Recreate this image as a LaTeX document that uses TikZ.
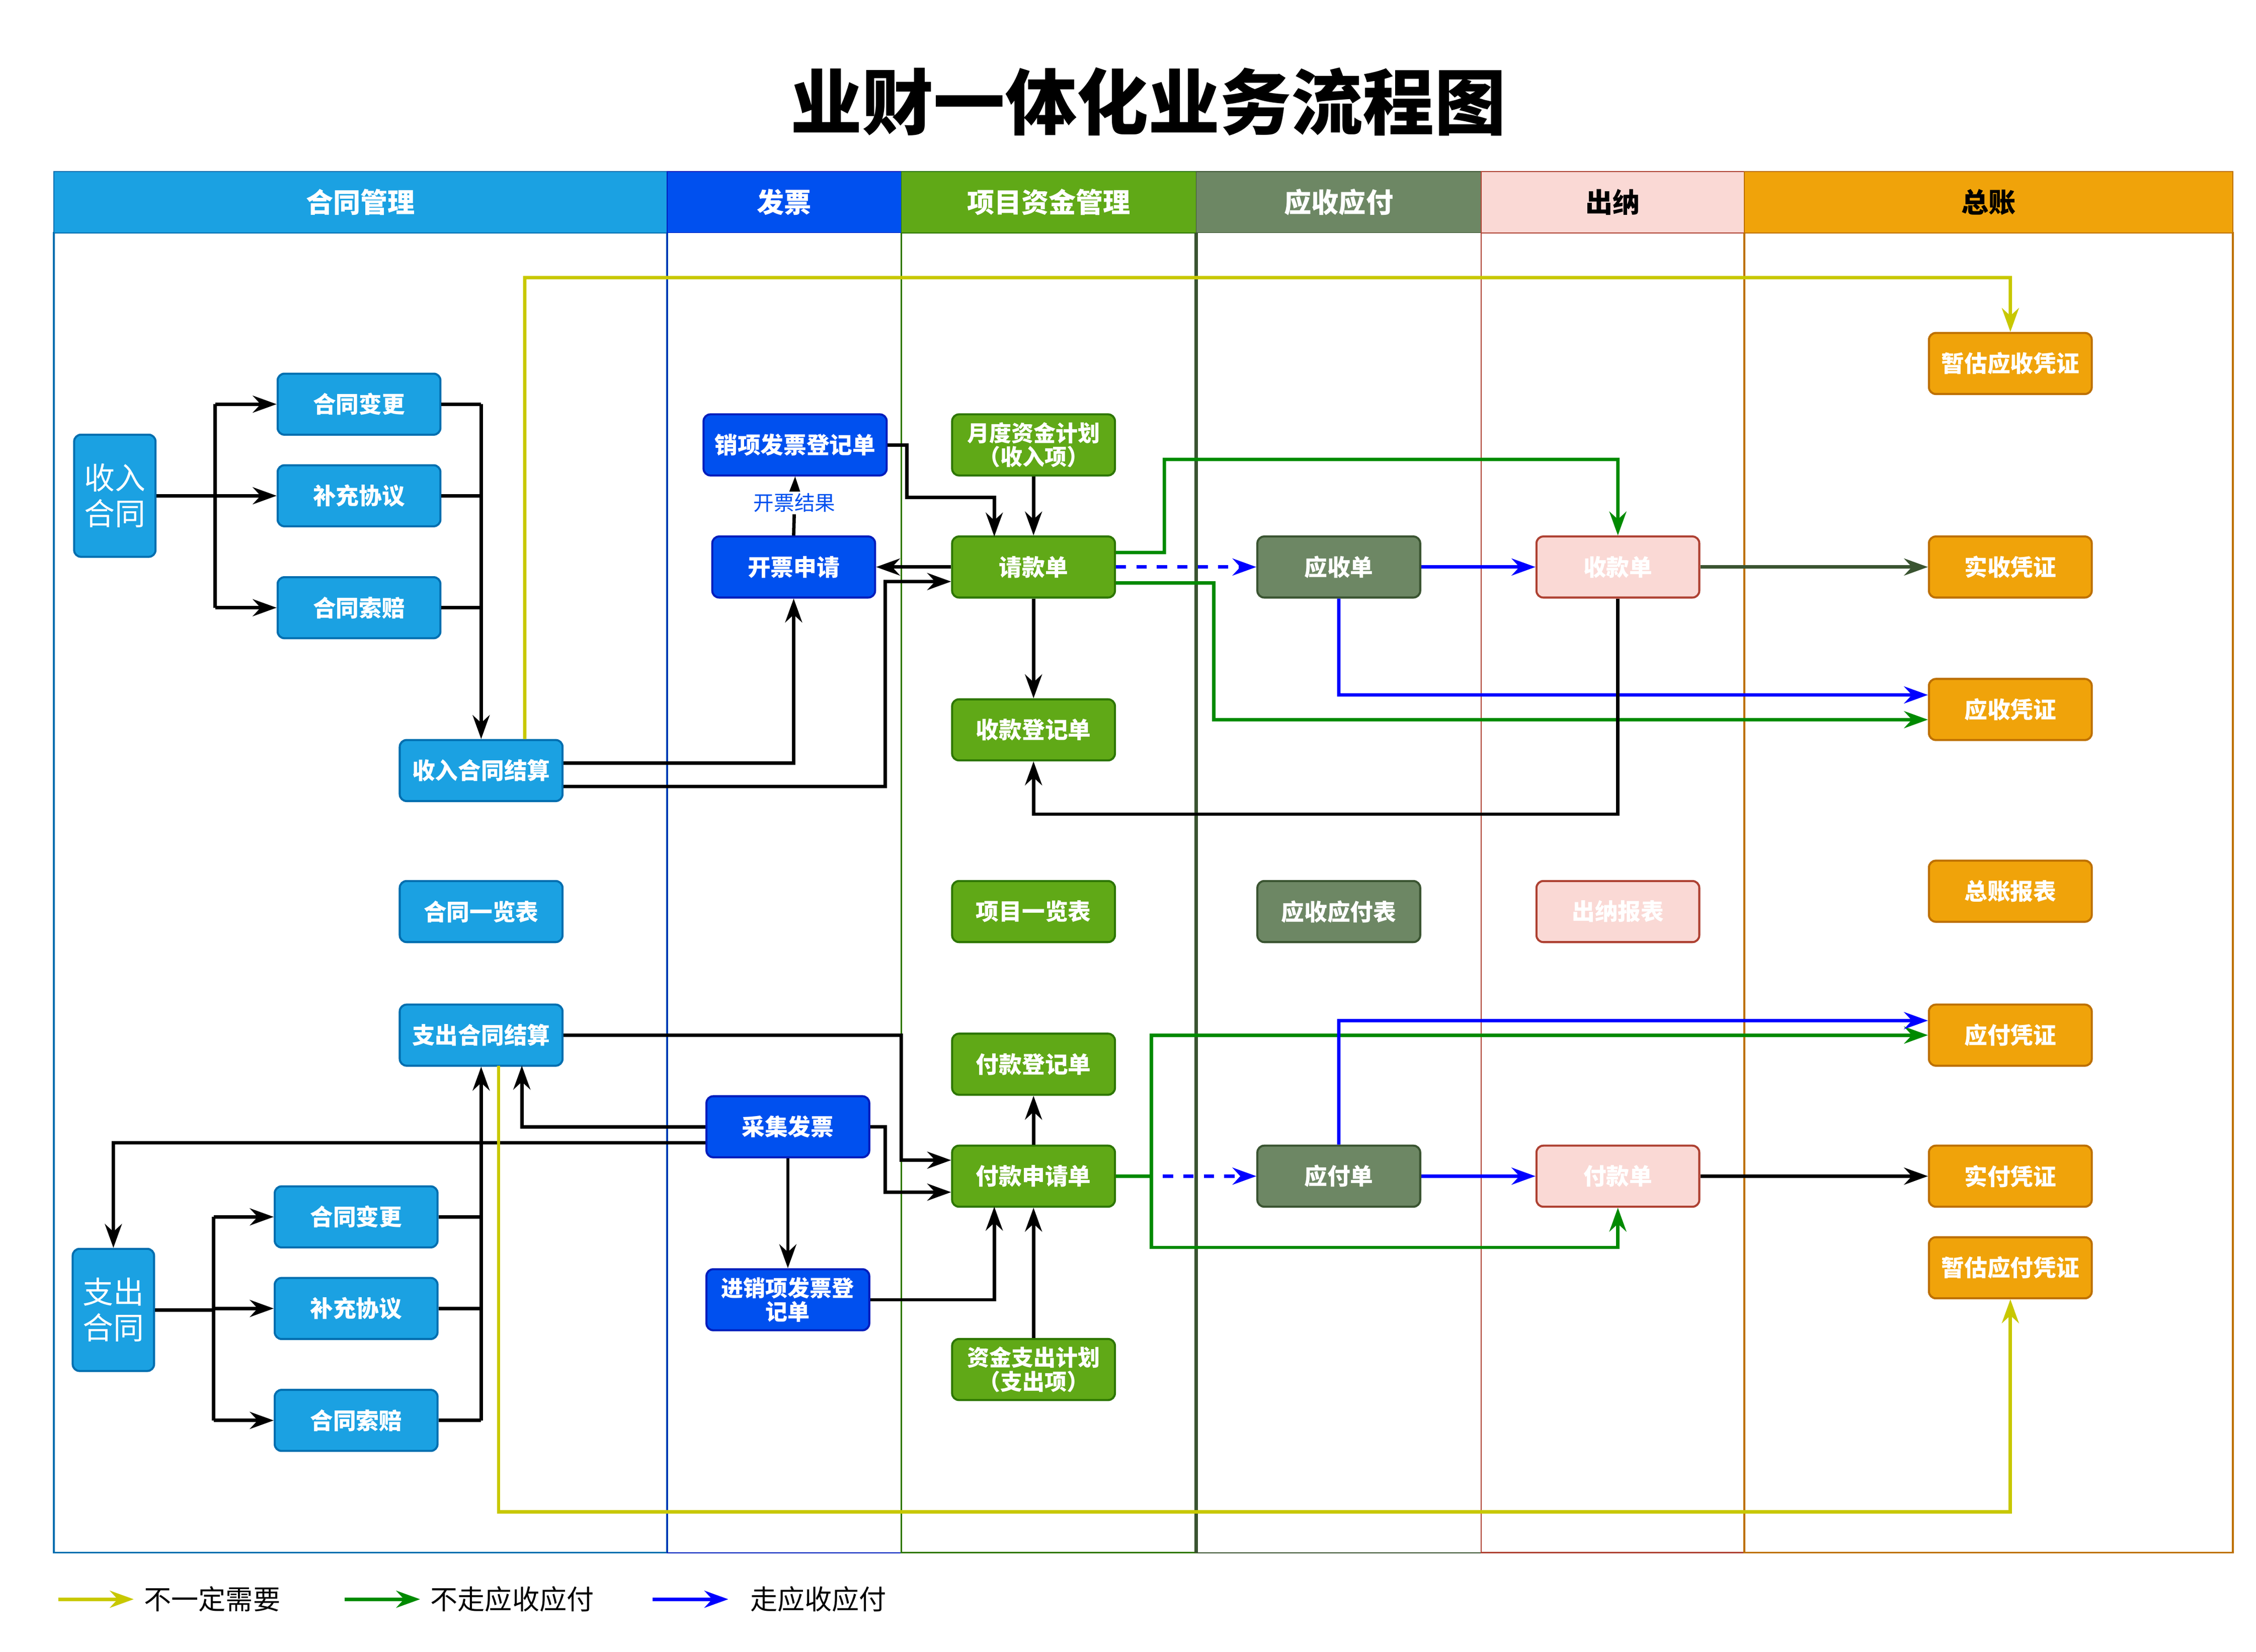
\documentclass[tikz,border=0pt]{standalone}
\usepackage{fontspec}
\setmainfont{Noto Sans CJK SC}
\usetikzlibrary{arrows.meta}
\definecolor{cA}{HTML}{1BA1E2}\definecolor{cAd}{HTML}{006EAF}
\definecolor{cB}{HTML}{0050EF}\definecolor{cBd}{HTML}{001DBC}
\definecolor{cC}{HTML}{60A917}\definecolor{cCd}{HTML}{2D7600}
\definecolor{cD}{HTML}{6D8764}\definecolor{cDd}{HTML}{3A5431}
\definecolor{cE}{HTML}{FAD9D5}\definecolor{cEd}{HTML}{AE4132}
\definecolor{cF}{HTML}{F0A30A}\definecolor{cFd}{HTML}{BD7000}
\definecolor{yl}{HTML}{C8C800}\definecolor{gr}{HTML}{008A00}\definecolor{bl}{HTML}{0000FF}
\begin{document}
\begin{tikzpicture}[x=0.03cm,y=-0.03cm,
 box/.style={draw,rounded corners=4pt,minimum width=3.36cm,minimum height=1.26cm,line width=1.2pt,text=white,font=\bfseries\fontsize{13.5}{15}\selectfont,align=center,inner sep=1pt},
 bA/.style={box,fill=cA,draw=cAd},bB/.style={box,fill=cB,draw=cBd},bC/.style={box,fill=cC,draw=cCd},
 bD/.style={box,fill=cD,draw=cDd},bE/.style={box,fill=cE,draw=cEd},bF/.style={box,fill=cF,draw=cFd},
 two/.style={font=\bfseries\fontsize{13}{14}\selectfont},
 big/.style={bA,minimum width=1.68cm,minimum height=2.52cm,font=\fontsize{18}{21}\selectfont},
 hd/.style={draw,minimum height=1.26cm,inner sep=0,font=\bfseries\fontsize{16}{18}\selectfont,text=white},
 e/.style={line width=2pt,-{Stealth[length=14pt,width=10pt]}},
 ln/.style={line width=2pt}]
\useasboundingbox (0,0) rectangle (1552,1136);
% title
\node[font=\bfseries\fontsize{42}{48}\selectfont] (title) at (790,70) {业财一体化业务流程图};
% lanes
\draw[cAd,line width=1pt] (37,160) rectangle (459,1068);
\draw[cBd,line width=0.6pt] (459,160) rectangle (620,1068);
\draw[cCd,line width=1pt] (620,160) rectangle (823,1068);
\draw[cDd,line width=2pt] (823,160) -- (823,1068);
\draw[cDd,line width=0.6pt] (823,1068) -- (1019,1068);
\draw[cEd,line width=0.8pt] (1019,160) rectangle (1200,1068);
\draw[cFd,line width=1pt] (1200,160) rectangle (1536,1068);
\node[hd,fill=cA,draw=cAd,minimum width=12.66cm] (h1) at (248,139) {合同管理};
\node[hd,fill=cB,draw=cBd,minimum width=4.83cm] (h2) at (539.5,139) {发票};
\node[hd,fill=cC,draw=cCd,minimum width=6.09cm] (h3) at (721.5,139) {项目资金管理};
\node[hd,fill=cD,draw=cDd,minimum width=5.88cm] (h4) at (921,139) {应收应付};
\node[hd,fill=cE,draw=cEd,minimum width=5.43cm,text=black] (h5) at (1109.5,139) {出纳};
\node[hd,fill=cF,draw=cFd,minimum width=10.08cm,text=black] (h6) at (1368,139) {总账};
% nodes
\node[big] (ic) at (79,341) {收入\\合同};
\node[bA] (a1) at (247,278) {合同变更};
\node[bA] (a2) at (247,341) {补充协议};
\node[bA] (a3) at (247,418) {合同索赔};
\node[bA] (is) at (331,530) {收入合同结算};
\node[bA] (cl) at (331,627) {合同一览表};
\node[bA] (os) at (331,712) {支出合同结算};
\node[big] (oc) at (78,901) {支出\\合同};
\node[bA] (b1) at (245,837) {合同变更};
\node[bA] (b2) at (245,900) {补充协议};
\node[bA] (b3) at (245,977) {合同索赔};
\node[bB,minimum width=3.78cm] (xf) at (547,306) {销项发票登记单};
\node[bB] (kp) at (546,390) {开票申请};
\node[bB] (cj) at (542,775) {采集发票};
\node[bB,two] (jx) at (542,894) {进销项发票登\\记单};
\node[bC,two] (yd) at (711,306) {月度资金计划\\（收入项）};
\node[bC] (qk) at (711,390) {请款单};
\node[bC] (sd) at (711,502) {收款登记单};
\node[bC] (xm) at (711,627) {项目一览表};
\node[bC] (fd) at (711,732) {付款登记单};
\node[bC] (fs) at (711,809) {付款申请单};
\node[bC,two] (zj) at (711,942) {资金支出计划\\（支出项）};
\node[bD] (ys) at (921,390) {应收单};
\node[bD] (yb) at (921,627) {应收应付表};
\node[bD] (yf) at (921,809) {应付单};
\node[bE] (sk) at (1113,390) {收款单};
\node[bE] (cn) at (1113,627) {出纳报表};
\node[bE] (fk) at (1113,809) {付款单};
\node[bF] (g1) at (1383,250) {暂估应收凭证};
\node[bF] (g2) at (1383,390) {实收凭证};
\node[bF] (g3) at (1383,488) {应收凭证};
\node[bF] (g4) at (1383,613) {总账报表};
\node[bF] (g5) at (1383,712) {应付凭证};
\node[bF] (g6) at (1383,809) {实付凭证};
\node[bF] (g7) at (1383,872) {暂估应付凭证};
% income contract edges
\draw[ln] (ic.east) -- (148,341);
\draw[ln] (148,278) -- (148,418);
\draw[e] (148,278) -- (a1.west);
\draw[e] (148,341) -- (a2.west);
\draw[e] (148,418) -- (a3.west);
\draw[ln] (a1.east) -- (331,278);
\draw[ln] (a2.east) -- (331,341);
\draw[ln] (a3.east) -- (331,418);
\draw[e] (331,278) -- (is.north);
\draw[e] ([yshift=0.15cm]is.east) -- (546,525) -- (kp.south);
\draw[e] ([yshift=-0.33cm]is.east) -- (609,541) -- (609,400) -- ([yshift=-0.3cm]qk.west);
\draw[e] (qk.west) -- (kp.east);
\draw[e] (kp.north) -- node[fill=white,text=cB,font=\fontsize{12}{13}\selectfont,inner sep=1pt,pos=0.55] (kjg) {开票结果} (xf.south);
\draw[e] (xf.east) -- (624,306) -- (624,342) -- (684,342) -- (684,369);
\draw[e] (yd.south) -- (qk.north);
\draw[e] (qk.south) -- (sd.north);
\draw[e,bl,dash pattern=on 6pt off 6pt] (qk.east) -- (ys.west);
\draw[e,bl] (ys.east) -- (sk.west);
\draw[e,bl] (ys.south) -- (921,478) -- ([yshift=0.3cm]g3.west);
\draw[e,gr] ([yshift=0.3cm]qk.east) -- (801,380) -- (801,316) -- (1113,316) -- (sk.north);
\draw[e,gr] ([yshift=-0.33cm]qk.east) -- (835,401) -- (835,495) -- ([yshift=-0.21cm]g3.west);
\draw[e,cDd] (sk.east) -- (g2.west);
\draw[e] (sk.south) -- (1113,560) -- (711,560) -- (sd.south);
\draw[e,yl] ([xshift=0.9cm]is.north) -- (361,191) -- (1383,191) -- (g1.north);
% outcome edges
\draw[e] (os.east) -- (620,712) -- (620,798) -- ([yshift=0.33cm]fs.west);
\draw[e] (cj.east) -- (609,775) -- (609,820) -- ([yshift=-0.33cm]fs.west);
\draw[e] (cj.west) -- (359,775) -- (359,733);
\draw[e] ([yshift=-0.33cm]cj.west) -- (78,786) -- (oc.north);
\draw[e] (cj.south) -- (jx.north);
\draw[e] (jx.east) -- (684,894) -- (684,830);
\draw[e] (zj.north) -- (fs.south);
\draw[e] (fs.north) -- (fd.south);
\draw[ln,gr] (fs.east) -- (792,809);
\draw[e,gr] (792,809) -- (792,712) -- (g5.west);
\draw[e,gr] (792,809) -- (792,858) -- (1113,858) -- (fk.south);
\draw[e,bl,dash pattern=on 6pt off 6pt] (800,809) -- (yf.west);
\draw[e,bl] (yf.north) -- (921,702) -- ([yshift=0.3cm]g5.west);
\draw[e,bl] (yf.east) -- (fk.west);
\draw[e] (fk.east) -- (g6.west);
\draw[ln] (oc.east) -- (147,901);
\draw[ln] (147,837) -- (147,977);
\draw[e] (147,837) -- (b1.west);
\draw[e] (147,900) -- (b2.west);
\draw[e] (147,977) -- (b3.west);
\draw[ln] (b1.east) -- (331,837);
\draw[ln] (b2.east) -- (331,900);
\draw[ln] (b3.east) -- (331,977);
\draw[e] (331,977) -- (os.south);
\draw[e,yl] (343,733) -- (343,1040) -- (1383,1040) -- (g7.south);
% legend
\coordinate (l1a) at (40,1100); \coordinate (l1b) at (92,1100);
\coordinate (l2a) at (237,1100); \coordinate (l2b) at (289,1100);
\coordinate (l3a) at (449,1100); \coordinate (l3b) at (501,1100);
\draw[e,yl] (l1a) -- (l1b);
\draw[e,gr] (l2a) -- (l2b);
\draw[e,bl] (l3a) -- (l3b);
\node[anchor=west,font=\fontsize{16}{18}\selectfont] (t1) at (95,1100) {不一定需要};
\node[anchor=west,font=\fontsize{16}{18}\selectfont] (t2) at (292,1100) {不走应收应付};
\node[anchor=west,font=\fontsize{16}{18}\selectfont] (t3) at (512,1100) {走应收应付};
\end{tikzpicture}
\end{document}
